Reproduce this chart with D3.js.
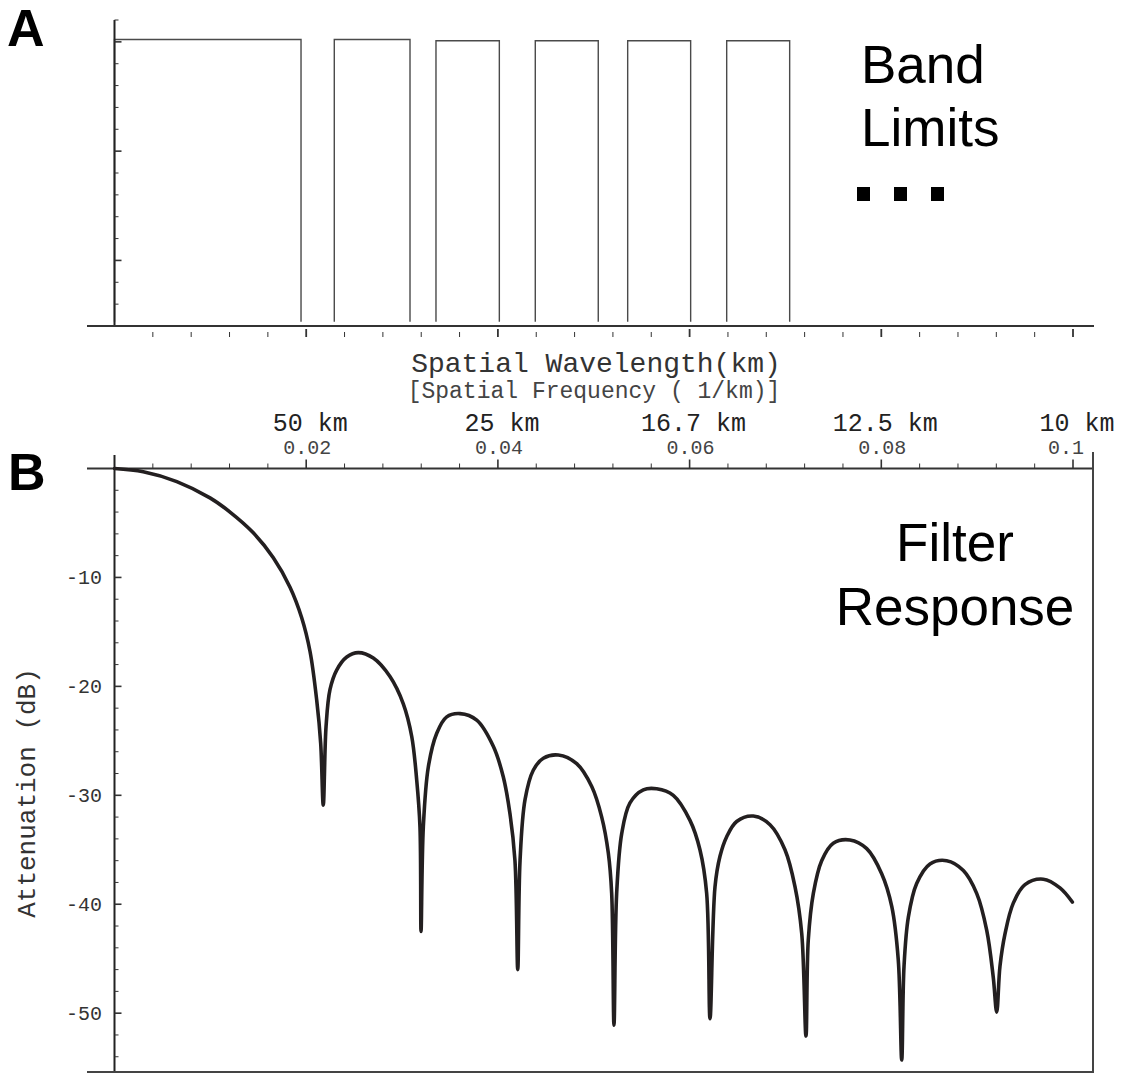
<!DOCTYPE html>
<html><head><meta charset="utf-8">
<script src="https://cdn.jsdelivr.net/npm/d3@7"></script>
<style>body{margin:0;background:#fff} svg{display:block}</style>
</head><body><svg id="c" width="1131" height="1074"></svg>
<script>
// ---- data ----
const bandStart = [0, 0.02293, 0.03354, 0.04390, 0.05354, 0.06387];
const bandEnd   = [0.01946, 0.03083, 0.04015, 0.05047, 0.06011, 0.07044];
const bandTop   = [1.011, 1.011, 1.005, 1.005, 1.005, 1.005];
const bandFloor = -0.28;
const freqTicks = [0.02, 0.04, 0.06, 0.08, 0.1];
const wavelengthLabels = ["50 km", "25 km", "16.7 km", "12.5 km", "10 km"];
const freqLabels = ["0.02", "0.04", "0.06", "0.08", "0.1"];
const dbTicks = [-10, -20, -30, -40, -50];
const responseFreq = [0, 0.0030, 0.0065, 0.00996, 0.01205, 0.01448, 0.01657, 0.01831, 0.01953, 0.02040, 0.02110, 0.02151, 0.02178,
  0.02207, 0.02248, 0.02318, 0.02423, 0.02544, 0.02700, 0.02874, 0.03013, 0.03101, 0.03153, 0.03187, 0.03198,
  0.03222, 0.03274, 0.03362, 0.03466, 0.03605, 0.03779, 0.03952, 0.04056, 0.04126, 0.04178, 0.04207,
  0.04231, 0.04283, 0.04369, 0.04474, 0.04630, 0.04822, 0.04979, 0.05083, 0.05152, 0.05187, 0.05211,
  0.05239, 0.05292, 0.05378, 0.05517, 0.05657, 0.05830, 0.06004, 0.06108, 0.06178, 0.06213,
  0.06265, 0.06317, 0.06387, 0.06491, 0.06665, 0.06839, 0.06995, 0.07100, 0.07170, 0.07214,
  0.07238, 0.07291, 0.07378, 0.07499, 0.07673, 0.07848, 0.08004, 0.08109, 0.08177, 0.08213,
  0.08237, 0.08282, 0.08369, 0.08508, 0.08682, 0.08856, 0.08995, 0.09100, 0.09168, 0.09204,
  0.09238, 0.09291, 0.09377, 0.09499, 0.09690, 0.09864, 0.09993];
const responseDb = [0, -0.3, -1.2, -2.7, -4.0, -5.9, -8.2, -10.9, -13.7, -16.8, -21.3, -25.2, -30.9,
  -23.7, -20.3, -18.5, -17.3, -16.9, -17.4, -19.1, -21.6, -24.6, -28.6, -32.9, -42.5,
  -32.9, -27.4, -24.3, -22.8, -22.5, -23.1, -25.5, -28.3, -31.7, -36, -46.0,
  -36, -30.4, -27.7, -26.6, -26.3, -27.1, -29.2, -32, -35.3, -39, -51.1,
  -39, -33.5, -30.7, -29.5, -29.4, -30, -32.3, -35, -39, -50.5,
  -38.4, -35.6, -33.8, -32.4, -31.9, -32.7, -35, -38.4, -42.7, -52.1,
  -43.3, -39, -36, -34.4, -34.1, -34.9, -37.2, -40.2, -45.1, -54.3,
  -45.7, -41.2, -38.1, -36.3, -36.0, -36.9, -39, -42.4, -46.7, -49.9,
  -45.7, -42.7, -39.9, -38.2, -37.7, -38.5, -39.8];

// ---- drawing ----
const svg = d3.select("#c");
const mono = "'Liberation Mono', 'DejaVu Sans Mono', monospace";
const sans = "'Liberation Sans', Arial, sans-serif";

const x = d3.scaleLinear().domain([0, 0.1]).range([114.5, 1073]);
const yA = d3.scaleLinear().domain([-0.3, 1.1]).range([326, 20]);
const yB = d3.scaleLinear().domain([-55.4, 0]).range([1072, 468.5]);

const xMinor = d3.range(1, 26).map(i => +(i * 0.004).toFixed(3));
const isMajorX = v => Math.abs(v / 0.02 - Math.round(v / 0.02)) < 1e-6;

// ===== Panel A =====
const gA = svg.append("g");
const bands = bandStart.map((s, i) => ({s, e: bandEnd[i], t: bandTop[i]}));
gA.selectAll("path.band").data(bands).enter().append("path")
  .attr("class", "band")
  .attr("fill", "none").attr("stroke", "#4a4a4a").attr("stroke-width", 1.4)
  .attr("d", d => `M${x(d.s)},${yA(bandFloor)}V${yA(d.t)}H${x(d.e)}V${yA(bandFloor)}`);
gA.append("line").attr("x1", x(0)).attr("x2", x(0)).attr("y1", yA(1.1)).attr("y2", yA(-0.3))
  .attr("stroke", "#222").attr("stroke-width", 2);
const yAt = d3.range(-2, 12).map(i => +(i * 0.1).toFixed(2));
const isMajorA = d => Math.abs(d * 2 - Math.round(d * 2)) < 1e-6;
gA.selectAll("line.yat").data(yAt).enter().append("line")
  .attr("x1", x(0)).attr("x2", d => x(0) + (isMajorA(d) ? 7 : 4))
  .attr("y1", d => yA(d)).attr("y2", d => yA(d))
  .attr("stroke", "#333").attr("stroke-width", d => isMajorA(d) ? 1.6 : 1);
gA.append("line").attr("x1", 87).attr("x2", 1094).attr("y1", yA(-0.3)).attr("y2", yA(-0.3))
  .attr("stroke", "#333").attr("stroke-width", 2);
gA.selectAll("line.xat").data(xMinor).enter().append("line")
  .attr("x1", d => x(d)).attr("x2", d => x(d))
  .attr("y1", d => yA(-0.3) + (isMajorX(d) ? 3 : 6)).attr("y2", yA(-0.3) + 11)
  .attr("stroke", "#333").attr("stroke-width", d => isMajorX(d) ? 1.8 : 1);

svg.append("text").attr("x", 7).attr("y", 46).attr("font-family", sans).attr("font-weight", "bold")
  .attr("font-size", 52).attr("fill", "#000").text("A");
const bl = svg.append("text").attr("font-family", sans).attr("font-size", 53).attr("fill", "#000");
bl.append("tspan").attr("x", 861).attr("y", 83).text("Band");
bl.append("tspan").attr("x", 861).attr("y", 146).text("Limits");
svg.selectAll("rect.dot").data([0, 1, 2]).enter().append("rect")
  .attr("x", d => 857 + d * 37).attr("y", 187).attr("width", 13).attr("height", 14).attr("fill", "#000");

svg.append("text").attr("x", 596).attr("y", 372).attr("text-anchor", "middle")
  .attr("font-family", mono).attr("font-size", 28).attr("fill", "#333").text("Spatial Wavelength(km)");
svg.append("text").attr("x", 594).attr("y", 398).attr("text-anchor", "middle")
  .attr("font-family", mono).attr("font-size", 23).attr("fill", "#444").text("[Spatial Frequency ( 1/km)]");

// ===== Panel B =====
const gB = svg.append("g");
gB.append("line").attr("x1", 87).attr("x2", 1094).attr("y1", yB(0)).attr("y2", yB(0))
  .attr("stroke", "#333").attr("stroke-width", 2);
gB.selectAll("line.xbt").data(xMinor).enter().append("line")
  .attr("x1", d => x(d)).attr("x2", d => x(d))
  .attr("y1", yB(0)).attr("y2", d => yB(0) - (isMajorX(d) ? 9 : 5))
  .attr("stroke", "#333").attr("stroke-width", d => isMajorX(d) ? 1.6 : 1);
gB.selectAll("text.wl").data(freqTicks).enter().append("text")
  .attr("x", d => x(d) + 4).attr("y", 431).attr("text-anchor", "middle")
  .attr("font-family", mono).attr("font-size", 25).attr("fill", "#222")
  .text((d, i) => wavelengthLabels[i]);
gB.selectAll("text.fq").data(freqTicks).enter().append("text")
  .attr("x", (d, i) => x(d) + (i === 4 ? -7 : 1)).attr("y", 454).attr("text-anchor", "middle")
  .attr("font-family", mono).attr("font-size", 20).attr("fill", "#444")
  .text((d, i) => freqLabels[i]);
gB.append("line").attr("x1", x(0)).attr("x2", x(0)).attr("y1", 455).attr("y2", yB(-55.4))
  .attr("stroke", "#222").attr("stroke-width", 2);
gB.append("line").attr("x1", 1093).attr("x2", 1093).attr("y1", 452).attr("y2", yB(-55.4))
  .attr("stroke", "#444").attr("stroke-width", 2);
gB.append("line").attr("x1", 87).attr("x2", 1094).attr("y1", yB(-55.4)).attr("y2", yB(-55.4))
  .attr("stroke", "#444").attr("stroke-width", 2);
const yBt = d3.range(1, 28).map(i => -2 * i);
gB.selectAll("line.ybt").data(yBt).enter().append("line")
  .attr("x1", x(0)).attr("x2", d => x(0) + (d % 10 === 0 ? 7 : 4))
  .attr("y1", d => yB(d)).attr("y2", d => yB(d))
  .attr("stroke", "#333").attr("stroke-width", d => d % 10 === 0 ? 1.6 : 1);
gB.selectAll("text.yl").data(dbTicks).enter().append("text")
  .attr("x", 102).attr("y", d => yB(d)).attr("dy", "0.35em").attr("text-anchor", "end")
  .attr("font-family", mono).attr("font-size", 20).attr("fill", "#333").text(d => String(d));
gB.append("text").attr("transform", "translate(35,793) rotate(-90)").attr("text-anchor", "middle")
  .attr("font-family", mono).attr("font-size", 26).attr("fill", "#333").text("Attenuation (dB)");

const pts = responseFreq.map((f, i) => [f, responseDb[i]]);
gB.append("path").datum(pts)
  .attr("fill", "none").attr("stroke", "#231f20").attr("stroke-width", 3.6)
  .attr("stroke-linejoin", "round").attr("stroke-linecap", "round")
  .attr("d", d3.line().x(d => x(d[0])).y(d => yB(d[1])).curve(d3.curveCatmullRom.alpha(0.5)));

svg.append("text").attr("x", 8).attr("y", 490).attr("font-family", sans).attr("font-weight", "bold")
  .attr("font-size", 52).attr("fill", "#000").text("B");
const fr = svg.append("text").attr("font-family", sans).attr("font-size", 53).attr("fill", "#000")
  .attr("text-anchor", "middle");
fr.append("tspan").attr("x", 955).attr("y", 561).text("Filter");
fr.append("tspan").attr("x", 955).attr("y", 625).text("Response");
</script></body></html>
